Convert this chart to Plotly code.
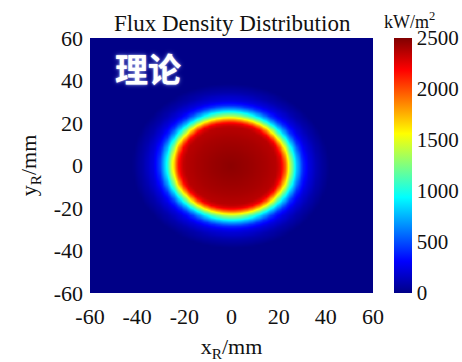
import numpy as np
import plotly.graph_objects as go

# Radial flux profile of the focal spot, sampled along the normalised
# elliptical radius (1.0 = spot edge at ~1560 kW/m^2).
rho_samples = [0.0, 0.3, 0.6, 0.8, 0.88, 0.94, 1.0, 1.07, 1.14, 1.24, 1.35, 1.5, 1.7, 3.0]
flux_samples = [2470, 2440, 2400, 2360, 2230, 1930, 1560, 1150, 800, 420, 230, 100, 0, 0]

# Spot geometry (mm / degrees)
spot_center = (-0.5, 0.0)
spot_semi_axes = (24.6, 22.8)
spot_tilt_deg = -8.0

# Receiver grid, 1 mm cells spanning -60..60 mm
x_cells = np.arange(-59.5, 60.0, 1.0)
y_cells = np.arange(-59.5, 60.0, 1.0)

axis_ticks = [-60, -40, -20, 0, 20, 40, 60]
axis_tick_text = ["-60", "-40", "-20", "0", "20", "40", "60"]
cbar_ticks = [0, 500, 1000, 1500, 2000, 2500]

# Build the flux field on the grid from the sampled profile
X, Y = np.meshgrid(x_cells, y_cells)
th = np.deg2rad(spot_tilt_deg)
dx, dy = X - spot_center[0], Y - spot_center[1]
u = dx * np.cos(th) + dy * np.sin(th)
v = -dx * np.sin(th) + dy * np.cos(th)
rho = np.sqrt((u / spot_semi_axes[0]) ** 2 + (v / spot_semi_axes[1]) ** 2)
flux = np.interp(rho, rho_samples, flux_samples)

# MATLAB-style jet colormap
jet = [
    [0.0, "rgb(0,0,135)"],
    [0.125, "rgb(0,0,255)"],
    [0.375, "rgb(0,255,255)"],
    [0.625, "rgb(255,255,0)"],
    [0.875, "rgb(255,0,0)"],
    [1.0, "rgb(128,0,0)"],
]

serif = "Times New Roman, Liberation Serif, serif"
ink = "#111"

fig = go.Figure(
    go.Heatmap(
        x=x_cells,
        y=y_cells,
        z=flux,
        zmin=0,
        zmax=2500,
        zsmooth="best",
        colorscale=jet,
        colorbar=dict(
            x=(394 - 90) / 283,
            xanchor="left",
            xpad=0,
            y=1,
            yanchor="top",
            len=1,
            lenmode="fraction",
            ypad=0,
            thickness=18,
            outlinewidth=0,
            tickvals=cbar_ticks,
            ticks="",
            tickfont=dict(family=serif, size=21, color=ink),
        ),
        hoverinfo="skip",
    )
)

fig.update_layout(
    width=462,
    height=362,
    margin=dict(l=90, r=89, t=38, b=69, autoexpand=False),
    paper_bgcolor="white",
    plot_bgcolor="white",
    showlegend=False,
    xaxis=dict(
        range=[-60, 60],
        tickvals=axis_ticks,
        ticktext=axis_tick_text,
        showgrid=False,
        zeroline=False,
        showline=False,
        ticks="",
        automargin=False,
        ticklabelstandoff=8,
        tickfont=dict(family=serif, size=22, color=ink),
        title=dict(text="x<sub>R</sub>/mm", font=dict(family=serif, size=22, color=ink), standoff=11),
    ),
    yaxis=dict(
        range=[-60, 60],
        tickvals=axis_ticks,
        ticktext=axis_tick_text,
        showgrid=False,
        zeroline=False,
        showline=False,
        ticks="",
        automargin=False,
        ticklabelstandoff=6,
        tickfont=dict(family=serif, size=22, color=ink),
        title=dict(text="y<sub>R</sub>/mm", font=dict(family=serif, size=22, color=ink), standoff=10),
    ),
    annotations=[
        dict(
            text="Flux Density Distribution",
            x=0.502, y=1 + (38 - 24) / 255,
            xref="paper", yref="paper",
            xanchor="center", yanchor="middle",
            showarrow=False,
            font=dict(family=serif, size=23, color=ink),
        ),
        dict(
            text="kW/m<sup>2</sup>",
            x=(409 - 90) / 283, y=1 + (38 - 20) / 255,
            xref="paper", yref="paper",
            xanchor="center", yanchor="middle",
            showarrow=False,
            font=dict(family=serif, size=18, color=ink),
        ),
        dict(
            text="理论",
            x=(148 - 90) / 283, y=1 - (67.5 - 38) / 255,
            xref="paper", yref="paper",
            xanchor="center", yanchor="middle",
            showarrow=False,
            font=dict(
                family="Noto Sans CJK SC",
                size=33,
                color="white",
                weight=700,
                shadow="0px 0px 2px rgba(220,230,255,0.9), 0px 0px 5px rgba(170,190,255,0.5)",
            ),
        ),
    ],
)

fig.write_html("out.html")
